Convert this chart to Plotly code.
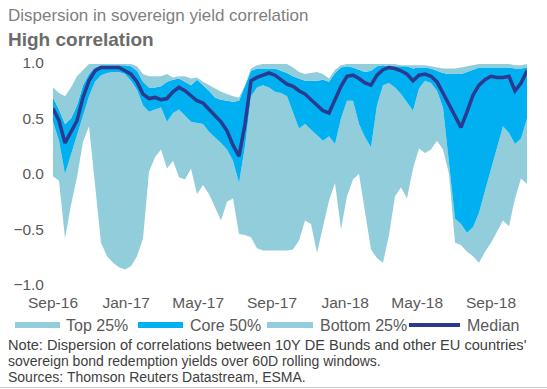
import pandas as pd
import plotly.graph_objects as go

# ---- data (10-day samples, Sep-2016 .. Oct-2018) ----
start_date = "2016-09-01"
n_points = 80
dates = pd.date_range(start_date, periods=n_points, freq="10D")

median = [0.59, 0.48, 0.28, 0.38, 0.48, 0.69, 0.84, 0.93, 0.96, 0.96,
          0.96, 0.96, 0.93, 0.90, 0.83, 0.72, 0.68, 0.69, 0.67, 0.68,
          0.74, 0.78, 0.75, 0.70, 0.66, 0.64, 0.58, 0.52, 0.47, 0.39,
          0.26, 0.16, 0.45, 0.84, 0.87, 0.89, 0.91, 0.89, 0.85, 0.81,
          0.79, 0.75, 0.72, 0.67, 0.63, 0.57, 0.55, 0.68, 0.79, 0.88,
          0.89, 0.86, 0.82, 0.80, 0.89, 0.94, 0.96, 0.95, 0.93, 0.90,
          0.84, 0.89, 0.90, 0.88, 0.83, 0.73, 0.63, 0.52, 0.42, 0.56,
          0.71, 0.80, 0.85, 0.88, 0.87, 0.87, 0.88, 0.75, 0.82, 0.93]

q75 = [0.69, 0.58, 0.45, 0.50, 0.62, 0.80, 0.90, 0.96, 0.98, 0.98,
       0.98, 0.98, 0.98, 0.97, 0.93, 0.83, 0.78, 0.78, 0.79, 0.83,
       0.85, 0.86, 0.83, 0.80, 0.85, 0.80, 0.75, 0.69, 0.67, 0.66,
       0.65, 0.66, 0.80, 0.93, 0.95, 0.95, 0.95, 0.95, 0.93, 0.91,
       0.88, 0.86, 0.84, 0.84, 0.84, 0.85, 0.83, 0.91, 0.96, 0.97,
       0.96, 0.94, 0.92, 0.93, 0.97, 0.98, 0.97, 0.97, 0.97, 0.97,
       0.95, 0.96, 0.96, 0.95, 0.93, 0.91, 0.90, 0.90, 0.90, 0.92,
       0.94, 0.96, 0.96, 0.96, 0.96, 0.96, 0.96, 0.95, 0.95, 0.96]

upper = [0.78, 0.73, 0.70, 0.78, 0.88, 0.94, 0.99, 0.99, 0.99, 0.99,
         0.99, 0.99, 0.99, 0.99, 0.97, 0.90, 0.88, 0.88, 0.88, 0.90,
         0.87, 0.88, 0.88, 0.86, 0.87, 0.83, 0.80, 0.77, 0.74, 0.72,
         0.70, 0.69, 0.80, 0.95, 0.98, 0.99, 0.99, 0.99, 0.99, 0.99,
         0.96, 0.92, 0.90, 0.91, 0.92, 0.90, 0.86, 0.94, 0.98, 0.99,
         0.99, 0.99, 0.99, 0.99, 0.99, 0.99, 0.99, 0.99, 0.98, 0.98,
         0.98, 0.98, 0.98, 0.97, 0.96, 0.95, 0.95, 0.95, 0.96, 0.97,
         0.98, 0.99, 0.99, 0.99, 0.99, 0.99, 0.99, 0.98, 0.98, 0.99]

q25 = [0.47, 0.30, 0.00, 0.18, 0.36, 0.53, 0.70, 0.83, 0.89, 0.91,
       0.92, 0.92, 0.90, 0.84, 0.76, 0.62, 0.56, 0.58, 0.60, 0.47,
       0.55, 0.58, 0.52, 0.47, 0.46, 0.45, 0.38, 0.33, 0.28, 0.22,
       0.12, -0.08, 0.25, 0.70, 0.78, 0.80, 0.78, 0.74, 0.73, 0.70,
       0.55, 0.41, 0.45, 0.40, 0.35, 0.30, 0.34, 0.27, 0.50, 0.66,
       0.66, 0.45, 0.33, 0.24, 0.62, 0.80, 0.82, 0.78, 0.72, 0.64,
       0.57, 0.77, 0.84, 0.82, 0.75, 0.60, 0.12, -0.40, -0.45, -0.53,
       -0.48, -0.35, -0.15, 0.05, 0.25, 0.43, 0.37, 0.27, 0.32, 0.50]

lower = [-0.02, -0.06, -0.58, -0.28, -0.03, 0.29, 0.43, -0.13, -0.62, -0.74,
         -0.80, -0.84, -0.86, -0.83, -0.74, -0.58, 0.02, 0.15, 0.22, 0.05,
         0.12, -0.03, -0.05, 0.05, -0.18, -0.10, -0.18, -0.30, -0.42, -0.25,
         -0.22, -0.54, -0.55, -0.57, -0.67, -0.69, -0.69, -0.69, -0.69, -0.69,
         -0.68, -0.60, -0.42, -0.45, -0.71, -0.48, -0.24, -0.08, -0.50, -0.20,
         -0.05, 0.00, -0.35, -0.68, -0.76, -0.80, -0.55, -0.20, -0.12, -0.22,
         0.05, 0.23, 0.19, 0.22, 0.30, 0.22, 0.00, -0.62, -0.64, -0.70,
         -0.74, -0.80, -0.70, -0.62, -0.52, -0.42, -0.47, -0.22, -0.04, -0.09]

tick_dates = ["2016-09-01", "2017-01-01", "2017-05-01", "2017-09-01",
              "2018-01-01", "2018-05-01", "2018-09-01"]
y_ticks = [-1.0, -0.5, 0.0, 0.5, 1.0]

legend_labels = ["Top 25%", "Core 50%", "Bottom 25%", "Median"]

title = "Dispersion in sovereign yield correlation"
subtitle = "High correlation"
notes = ["Note: Dispersion of correlations between 10Y DE Bunds and other EU countries'",
         "sovereign bond redemption yields over 60D rolling windows.",
         "Sources: Thomson Reuters Datastream, ESMA."]

# ---- style ----
LIGHT = "#92CDDC"
CORE = "#00B0F0"
NAVY = "#2B3990"
FONT = "Liberation Sans, Arial, sans-serif"

W, H = 547, 389
ML, MR, MT, MB = 53, 20, 63, 104
PW, PH = W - ML - MR, H - MT - MB


def xp(px):
    return (px - ML) / PW


def yp(py):
    return (H - MB - py) / PH


fig = go.Figure()
fig.add_trace(go.Scatter(x=dates, y=lower, mode="lines", line=dict(width=0, color=LIGHT),
                         showlegend=False, hoverinfo="skip"))
fig.add_trace(go.Scatter(x=dates, y=q25, mode="lines", line=dict(width=0, color=LIGHT),
                         fill="tonexty", fillcolor=LIGHT, showlegend=False))
fig.add_trace(go.Scatter(x=dates, y=q75, mode="lines", line=dict(width=0, color=CORE),
                         fill="tonexty", fillcolor=CORE, showlegend=False))
fig.add_trace(go.Scatter(x=dates, y=upper, mode="lines", line=dict(width=0, color=LIGHT),
                         fill="tonexty", fillcolor=LIGHT, showlegend=False))
fig.add_trace(go.Scatter(x=dates, y=median, mode="lines", line=dict(width=3.5, color=NAVY),
                         showlegend=False))

shapes = []
annotations = []

# legend (drawn manually)
leg_y = 325
leg_items = [(15, 60, 64, LIGHT, 6, legend_labels[0]),
             (138, 183, 188, CORE, 6, legend_labels[1]),
             (267, 313, 318, LIGHT, 6, legend_labels[2]),
             (409, 460, 465, NAVY, 4, legend_labels[3])]
for x0, x1, tx, col, th, lab in leg_items:
    shapes.append(dict(type="rect", xref="paper", yref="paper",
                       x0=xp(x0), x1=xp(x1), y0=yp(leg_y + th / 2), y1=yp(leg_y - th / 2),
                       fillcolor=col, line=dict(width=0)))
    annotations.append(dict(text=lab, xref="paper", yref="paper", x=xp(tx), y=yp(leg_y),
                            xanchor="left", yanchor="middle", showarrow=False,
                            font=dict(family=FONT, size=16, color="#595959")))

annotations.append(dict(text=title, xref="paper", yref="paper", x=xp(6), y=yp(15),
                        xanchor="left", yanchor="middle", showarrow=False,
                        font=dict(family=FONT, size=17, color="#7F7F7F")))
annotations.append(dict(text="<b>" + subtitle + "</b>", xref="paper", yref="paper",
                        x=xp(6), y=yp(40), xanchor="left", yanchor="middle", showarrow=False,
                        font=dict(family=FONT, size=19, color="#6B6B6B")))
note_sizes = [14.6, 14, 14]
for i, line in enumerate(notes):
    annotations.append(dict(text=line, xref="paper", yref="paper", x=xp(6), y=yp(345 + 16 * i),
                            xanchor="left", yanchor="middle", showarrow=False,
                            font=dict(family=FONT, size=note_sizes[i], color="#404040")))

shapes.append(dict(type="line", xref="paper", yref="paper", x0=xp(0), x1=xp(W),
                   y0=yp(387.5), y1=yp(387.5), line=dict(color="#C8C8C8", width=1)))

fig.update_layout(
    width=W, height=H,
    margin=dict(l=ML, r=MR, t=MT, b=MB),
    paper_bgcolor="white", plot_bgcolor="white",
    showlegend=False,
    shapes=shapes, annotations=annotations,
    xaxis=dict(type="date", range=[dates[0], dates[-1]], tickvals=tick_dates,
               tickformat="%b-%y", showgrid=False, zeroline=False, showline=False,
               ticks="", ticklabelstandoff=6,
               tickfont=dict(family=FONT, size=15.5, color="#595959")),
    yaxis=dict(range=[-1, 1], tickvals=y_ticks, tickformat=".1f", showgrid=False,
               zeroline=False, showline=False, ticks="", ticklabelstandoff=8,
               tickfont=dict(family=FONT, size=15.5, color="#595959")),
)

fig.write_html("out.html", config={"displayModeBar": False},
               post_script="document.body.style.margin='0';document.body.style.overflow='hidden';")
